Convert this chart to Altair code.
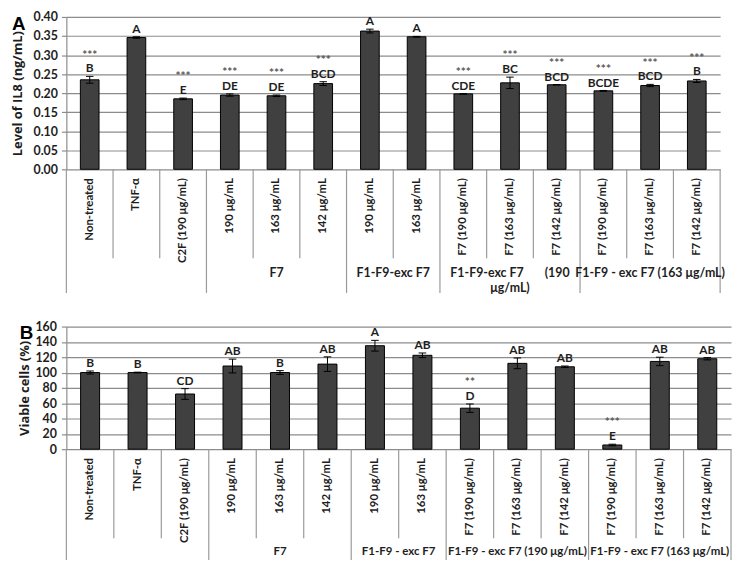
import altair as alt
import pandas as pd

# ---------------- data ----------------
cats_a = ["Non-treated", "TNF-α", "C2F (190 μg/mL)", "190 μg/mL", "163 μg/mL", "142 μg/mL",
          "190 μg/mL", "163 μg/mL",
          "F7  (190 μg/mL)", "F7  (163 μg/mL)", "F7  (142 μg/mL)",
          "F7  (190 μg/mL)", "F7  (163 μg/mL)", "F7  (142 μg/mL)"]
il8 = [0.235, 0.346, 0.185, 0.195, 0.193, 0.225, 0.363, 0.348, 0.198, 0.227, 0.222, 0.206, 0.220, 0.232]
il8_err = [0.009, 0.002, 0.002, 0.003, 0.002, 0.005, 0.005, 0.001, 0.0005, 0.015, 0.0005, 0.001, 0.003, 0.004]
il8_letters = ["B", "A", "E", "DE", "DE", "BCD", "A", "A", "CDE", "BC", "BCD", "BCDE", "BCD", "B"]
il8_sig = ["***", "", "***", "***", "***", "***", "", "", "***", "***", "***", "***", "***", "***"]
groups_a = ["", "F7", "F1-F9-exc F7",
            "F1-F9-exc F7\u00a0\u00a0\u00a0\u00a0\u00a0\u00a0\u00a0(190\nμg/mL)",
            "F1-F9 - exc F7 (163 μg/mL)"]
ticks_a = [0.00, 0.05, 0.10, 0.15, 0.20, 0.25, 0.30, 0.35, 0.40]

cats_b = cats_a
viable = [100, 100, 72, 108.5, 100, 111, 135, 122.5, 53.5, 112, 107.5, 5.5, 114.5, 118]
viable_err = [2, 0.5, 7, 9, 2.5, 9.5, 7, 3, 5.5, 7, 1, 1, 5.5, 1.5]
viable_letters = ["B", "B", "CD", "AB", "B", "AB", "A", "AB", "D", "AB", "AB", "E", "AB", "AB"]
viable_sig = ["", "", "", "", "", "", "", "", "**", "", "", "***", "", ""]
groups_b = ["", "F7", "F1-F9 - exc F7", "F1-F9 - exc F7 (190 μg/mL)", "F1-F9 - exc F7 (163 μg/mL)"]
ticks_b = [0, 20, 40, 60, 80, 100, 120, 140, 160]

group_bounds = [0, 3, 6, 8, 11, 14]

FONT = "Lato, 'Open Sans', sans-serif"
TFONT = "'Open Sans', Lato, sans-serif"
GRID = "#8c8c8c"
TXT = "#1e1e1e"


def panel(cats, vals, errs, letters, sigs, groups, ticks, fmt, ytitle, letter,
          W, H, inner_h, table_h, group_dy, letter_x, title_pad, label_pad, group_fs):
    n = len(cats)
    df = pd.DataFrame({"idx": list(range(n)), "cat": cats, "val": vals, "err": errs,
                       "letter": letters, "sig": sigs})
    df["x0"] = df.idx + 0.3
    df["x1"] = df.idx + 0.7
    df["xc"] = df.idx + 0.5
    df["cl"] = df.idx + 0.42
    df["cr"] = df.idx + 0.58
    df["lo"] = df.val - df.err
    df["hi"] = df.val + df.err

    xs = alt.Scale(domain=[0, n], nice=False, zero=False, padding=0)
    ys = alt.Scale(domain=[ticks[0], ticks[-1]], nice=False, padding=0)
    X = lambda f: alt.X(f, scale=xs, axis=None)

    yaxis = alt.Axis(values=ticks, format=fmt, title=ytitle, grid=True,
                     gridColor=GRID, gridWidth=1.2, domainColor=GRID, domainWidth=1.2,
                     tickColor=GRID, tickWidth=1.2, tickSize=5,
                     labelFont=FONT, labelFontWeight="bold", labelFontSize=12.5,
                     labelColor=TXT, labelPadding=label_pad, labelOverlap=False,
                     titleFont=TFONT, titleFontWeight="bold", titleFontSize=13,
                     titleColor=TXT, titlePadding=title_pad)
    Y = lambda f: alt.Y(f, scale=ys, axis=yaxis)

    base = alt.Chart(df)
    bars = base.mark_bar(color="#404040", stroke="#000000", strokeWidth=1).encode(
        x=X("x0:Q"), x2="x1:Q", y=Y("val:Q"), y2=alt.datum(0))
    ebar = base.mark_rule(color="#000000", strokeWidth=1).encode(
        x=X("xc:Q"), y=Y("lo:Q"), y2="hi:Q")
    cap_lo = base.mark_rule(color="#000000", strokeWidth=1).encode(
        x=X("cl:Q"), x2="cr:Q", y=Y("lo:Q"))
    cap_hi = base.mark_rule(color="#000000", strokeWidth=1).encode(
        x=X("cl:Q"), x2="cr:Q", y=Y("hi:Q"))
    let = base.mark_text(font=FONT, fontWeight="bold", fontSize=12, color=TXT,
                         baseline="alphabetic", dy=-4).encode(
        x=X("xc:Q"), y=Y("hi:Q"), text="letter:N")
    sig = base.transform_filter("datum.sig != ''").mark_text(
        font=FONT, fontWeight="bold", fontSize=12, color="#5a5a5a",
        baseline="alphabetic", dy=-18).encode(
        x=X("xc:Q"), y=Y("hi:Q"), text="sig:N")

    # category table
    cat_txt = base.mark_text(font=FONT, fontWeight="bold", fontSize=11.5, color=TXT,
                             angle=270, align="right", baseline="middle").encode(
        x=X("xc:Q"), y=alt.value(H + 9), text="cat:N")

    bdf = pd.DataFrame({"b": list(range(n + 1))})
    bdf["long"] = bdf.b.isin(group_bounds)
    short_rules = alt.Chart(bdf).transform_filter("!datum.long").mark_rule(
        color="#9a9a9a", strokeWidth=1.2).encode(
        x=X("b:Q"), y=alt.value(H), y2=alt.value(H + inner_h))
    long_rules = alt.Chart(bdf).transform_filter("datum.long").mark_rule(
        color="#9a9a9a", strokeWidth=1.2).encode(
        x=X("b:Q"), y=alt.value(H), y2=alt.value(H + table_h))

    gdf = pd.DataFrame({"g0": group_bounds[:-1], "g1": group_bounds[1:], "label": groups})
    gdf["gx"] = (gdf.g0 + gdf.g1) / 2
    gdf = gdf[gdf.label != ""]
    grp_txt = alt.Chart(gdf).mark_text(font=FONT, fontWeight="bold", fontSize=group_fs,
                                       color=TXT, baseline="top", align="center",
                                       lineBreak="\n", lineHeight=15).encode(
        x=X("gx:Q"), y=alt.value(H + inner_h + group_dy), text="label:N")

    ldf = pd.DataFrame({"t": [letter]})
    plet = alt.Chart(ldf).mark_text(font="Liberation Sans", fontWeight="bold", fontSize=19,
                                    color="#000000", align="left", baseline="alphabetic").encode(
        x=alt.value(letter_x), y=alt.value(13), text="t:N")

    return alt.layer(bars, ebar, cap_lo, cap_hi, let, sig, short_rules, long_rules,
                     cat_txt, grp_txt, plet).properties(width=W, height=H)


pa = panel(cats_a, il8, il8_err, il8_letters, il8_sig, groups_a, ticks_a, ".2f",
           "Level of IL8 (ng/mL)", "A", W=661, H=154, inner_h=90, table_h=125,
           group_dy=9, letter_x=-55, title_pad=9, label_pad=4, group_fs=12.5)
pb = panel(cats_b, viable, viable_err, viable_letters, viable_sig, groups_b, ticks_b, "d",
           "Viable cells (%)", "B", W=672, H=124, inner_h=90, table_h=112,
           group_dy=8, letter_x=-47, title_pad=4, label_pad=5, group_fs=11.6)

chart = alt.vconcat(pa, pb, spacing=26).properties(
    padding={"left": 3, "top": 0, "right": 0, "bottom": 0}).configure_view(stroke=None)

chart.save("out.html", embed_options={"renderer": "svg", "actions": False})
